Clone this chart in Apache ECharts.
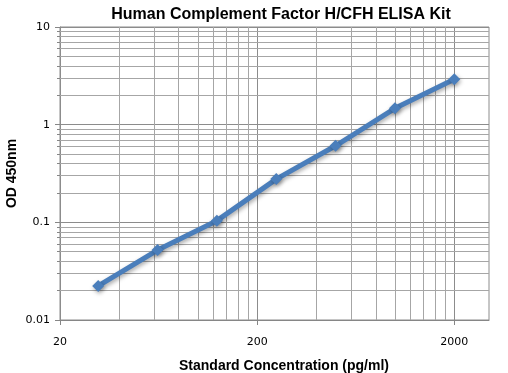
<!DOCTYPE html>
<html>
<head>
<meta charset="utf-8">
<script src="https://cdn.jsdelivr.net/npm/echarts@6/dist/echarts.min.js"></script>
<style>html,body{margin:0;padding:0;background:#fff;}#c{width:508px;height:373px;}</style>
</head>
<body>
<div id="c"></div>
<script>
const concentrations = [31.25, 62.5, 125, 250, 500, 1000, 2000];
const odValues = [0.0223, 0.052, 0.104, 0.277, 0.608, 1.47, 2.91];
const xTickLabels = [20, 200, 2000];
const xMinorGrid = [40, 60, 80, 100, 120, 140, 160, 180, 400, 600, 800, 1000, 1200, 1400, 1600, 1800];
const yTickLabels = [0.01, 0.1, 1, 10];
const yMinorGrid = [0.02,0.03,0.04,0.05,0.06,0.07,0.08,0.09,0.2,0.3,0.4,0.5,0.6,0.7,0.8,0.9,2,3,4,5,6,7,8,9];

const chart = echarts.init(document.getElementById('c'), null, {renderer: 'canvas'});
const gridColor = '#a6a6a6';
const majorColor = '#8c8c8c';

const gridLines = [];
xMinorGrid.forEach(v => gridLines.push({xAxis: v, lineStyle: {color: gridColor}}));
xTickLabels.forEach(v => gridLines.push({xAxis: v, lineStyle: {color: majorColor}}));
yMinorGrid.forEach(v => gridLines.push({yAxis: v, lineStyle: {color: gridColor}}));

chart.setOption({
  animation: false,
  title: {
    text: 'Human Complement Factor H/CFH ELISA Kit',
    left: 276, top: 2, textAlign: 'center',
    textStyle: {fontFamily: 'Liberation Sans', fontWeight: 'bold', fontSize: 16, color: '#000'}
  },
  grid: {left: 60, right: 19, top: 27, bottom: 53, show: true, borderColor: '#8c8c8c', borderWidth: 1,
    outerBoundsMode: 'none', containLabel: false},
  xAxis: {
    type: 'log', min: 20, max: 3000, logBase: 10,
    name: 'Standard Concentration (pg/ml)', nameLocation: 'middle', nameGap: 39, nameMoveOverlap: false,
    nameTextStyle: {fontFamily: 'Liberation Sans', fontWeight: 'bold', fontSize: 14, color: '#000', padding: [0, 0, 0, 19]},
    axisLine: {show: true, lineStyle: {color: '#868686'}},
    axisTick: {show: true, inside: false, length: 5, customValues: xTickLabels, lineStyle: {color: '#868686'}},
    axisLabel: {show: true, customValues: xTickLabels, margin: 17, fontFamily: 'DejaVu Sans', fontSize: 11, color: '#000',
      formatter: v => String(Math.round(v))},
    splitLine: {show: false},
    minorTick: {show: false}, minorSplitLine: {show: false}
  },
  yAxis: [{
    type: 'log', min: 0.01, max: 10, logBase: 10,
    name: 'OD 450nm', nameLocation: 'middle', nameGap: 41, nameRotate: 90, nameMoveOverlap: false,
    nameTextStyle: {fontFamily: 'Liberation Sans', fontWeight: 'bold', fontSize: 14, color: '#000'},
    axisLine: {show: true, lineStyle: {color: '#868686'}},
    axisTick: {show: true, length: 5, lineStyle: {color: '#868686'}},
    axisLabel: {margin: 10, fontFamily: 'DejaVu Sans', fontSize: 11, color: '#000',
      formatter: v => String(v)},
    splitLine: {show: true, lineStyle: {color: majorColor}}
  }, {
    type: 'log', min: 0.01, max: 10, logBase: 10, position: 'left', offset: 0,
    axisLine: {show: false},
    axisTick: {show: true, length: 3, customValues: yMinorGrid, lineStyle: {color: '#868686'}},
    axisLabel: {show: false},
    splitLine: {show: false}
  }],
  series: [{
    type: 'line', data: [], silent: true, z: 1,
    markLine: {
      silent: true, symbol: ['none', 'none'], animation: false,
      label: {show: false},
      lineStyle: {type: 'solid', width: 1, color: gridColor},
      emphasis: {disabled: true},
      data: gridLines
    }
  }, {
    type: 'line', z: 5,
    data: concentrations.map((c, i) => [c, odValues[i]]),
    symbol: 'diamond', symbolSize: 12,
    lineStyle: {color: '#4a7ebb', width: 5, shadowColor: 'rgba(0,0,0,0.35)', shadowBlur: 4, shadowOffsetX: 1, shadowOffsetY: 2},
    itemStyle: {color: '#4a7ebb', shadowColor: 'rgba(0,0,0,0.35)', shadowBlur: 4, shadowOffsetX: 1, shadowOffsetY: 2},
    showSymbol: true
  }]
});
</script>
</body>
</html>
